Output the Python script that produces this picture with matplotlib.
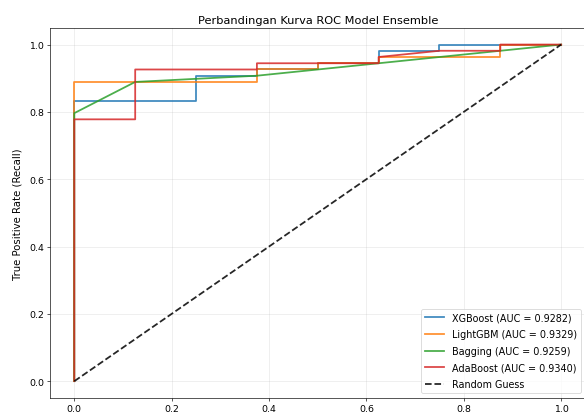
import matplotlib
matplotlib.use("Agg")
import matplotlib.pyplot as plt

# ROC points (fpr, tpr) per model
xgb_fpr = [0.0, 0.0, 0.25, 0.25, 0.375, 0.375, 0.5, 0.5, 0.625, 0.625, 0.75, 0.75, 1.0]
xgb_tpr = [0.0, 0.8333, 0.8333, 0.9074, 0.9074, 0.9259, 0.9259, 0.9444, 0.9444, 0.9815, 0.9815, 1.0, 1.0]

lgbm_fpr = [0.0, 0.0, 0.375, 0.375, 0.5, 0.5, 0.625, 0.625, 0.875, 0.875, 1.0]
lgbm_tpr = [0.0, 0.8889, 0.8889, 0.9259, 0.9259, 0.9444, 0.9444, 0.9630, 0.9630, 1.0, 1.0]

bag_fpr = [0.0, 0.0, 0.125, 0.375, 0.5, 0.625, 0.875, 1.0]
bag_tpr = [0.0, 0.7963, 0.8889, 0.9074, 0.9259, 0.9444, 0.9815, 1.0]

ada_fpr = [0.0, 0.0, 0.125, 0.125, 0.375, 0.375, 0.625, 0.625, 0.75, 0.875, 0.875, 1.0]
ada_tpr = [0.0, 0.7778, 0.7778, 0.9259, 0.9259, 0.9444, 0.9444, 0.9630, 0.9815, 0.9815, 1.0, 1.0]

models = ['XGBoost', 'LightGBM', 'Bagging', 'AdaBoost']
auc_scores = [0.9282, 0.9329, 0.9259, 0.9340]
colors = ['tab:blue', 'tab:orange', 'tab:green', 'tab:red']

curves = [(xgb_fpr, xgb_tpr), (lgbm_fpr, lgbm_tpr), (bag_fpr, bag_tpr), (ada_fpr, ada_tpr)]

fig = plt.figure(figsize=(10, 7.14), dpi=58.4)
ax = fig.add_axes([0.0856, 0.0432, 0.917, 0.888])

for (fpr, tpr), name, auc, c in zip(curves, models, auc_scores, colors):
    ax.plot(fpr, tpr, color=c, lw=2.2, alpha=0.85, label=f'{name} (AUC = {auc:.4f})')

ax.plot([0, 1], [0, 1], 'k--', lw=2.2, alpha=0.85, label='Random Guess')

ax.set_xlim(-0.05, 1.05)
ax.set_ylim(-0.05, 1.05)
ax.tick_params(labelsize=11.5)
ax.set_ylabel('True Positive Rate (Recall)', fontsize=12.5, labelpad=9)
ax.set_title('Perbandingan Kurva ROC Model Ensemble', fontsize=14)
ax.legend(loc='lower right', fontsize=11.8, labelspacing=0.7)
ax.grid(True, alpha=0.3)

fig.savefig('out.png', dpi=58.4)
